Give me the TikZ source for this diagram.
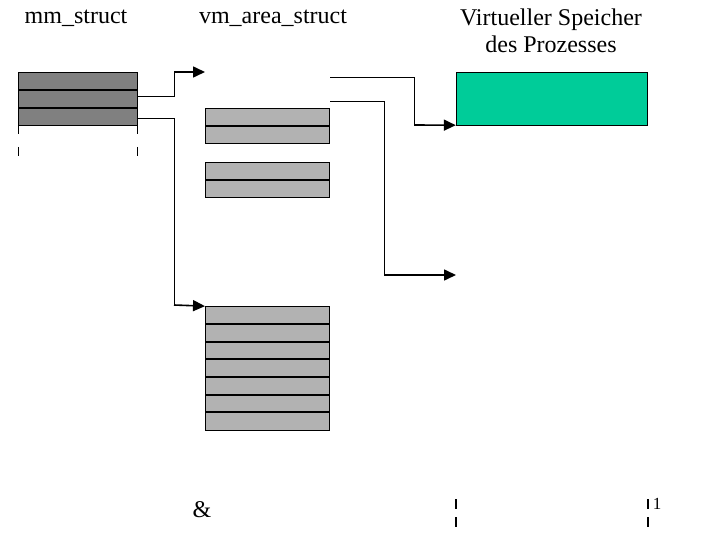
\documentclass[tikz,border=0pt]{standalone}
\usepackage{fontspec}
\setmainfont{Liberation Serif}
\usetikzlibrary{arrows.meta,positioning,calc}

\definecolor{mmgray}{RGB}{128,128,128}
\definecolor{vmgray}{RGB}{178,178,178}
\definecolor{memgreen}{RGB}{0,204,153}

\tikzset{
  head/.style={font=\fontsize{24}{27}\selectfont,align=center},
  mmrow/.style={draw,fill=mmgray,minimum width=119pt,minimum height=17.7pt,inner sep=0pt,outer sep=0pt},
  vmrow/.style={draw,fill=vmgray,minimum width=124pt,minimum height=17.7pt,inner sep=0pt,outer sep=0pt},
  link/.style={line width=1pt},
  linkarrow/.style={line width=1.6pt,-{Triangle[length=12pt,width=11pt]}},
  sep/.style={line width=2pt},
}

\begin{document}
\begin{tikzpicture}[x=1pt,y=-1pt]
\useasboundingbox (0,0) rectangle (720,540);

%% titles
\node[head] (tmm) at (76,18) {mm\_struct};
\node[head] (tvm) at (273,18) {vm\_area\_struct};
\node[head] (tmem) at (551,31) {Virtueller Speicher\\des Prozesses};

%% mm_struct
\node[mmrow] (mm1) at (77.5,81) {};
\node[mmrow,below=0pt of mm1] (mm2) {};
\node[mmrow,below=0pt of mm2] (mm3) {};
\draw[sep] (mm1.south west) -- (mm1.south east);
\draw[sep] (mm2.south west) -- (mm2.south east);
\foreach \x in {18,137}{
	\draw (\x,125) -- (\x,134);
	\draw (\x,147) -- (\x,156);
}

%% vm_area_struct blocks
\node[vmrow] (va1) at (267,117) {};
\node[vmrow,below=0pt of va1] (va2) {};
\draw[sep] (va1.south west) -- (va1.south east);
\node[vmrow] (vb1) at (267,171) {};
\node[vmrow,below=0pt of vb1] (vb2) {};
\draw[sep] (vb1.south west) -- (vb1.south east);

\node[vmrow] (big1) at (267,315) {};
\foreach \i [count=\j from 2] in {1,...,6}{
	\node[vmrow,below=0pt of big\i] (big\j) {};
	\draw[sep] (big\i.south west) -- (big\i.south east);
}

%% process memory
\node[draw,fill=memgreen,minimum width=191pt,minimum height=53pt,inner sep=0pt] (mem) at (551.5,98.5) {};

%% free ends
\coordinate (vmhead) at (205,72);
\coordinate (vmout1) at (330,78);
\coordinate (vmout2) at (330,102);
\coordinate (memlow) at (456,275);

%% connectors
\draw[link] (mm2.east) ++(0,-2.5) -- ++(37,0) |- (176,72);
\draw[linkarrow] (174,72) -- (vmhead);
\draw[link] (mm3.east) ++(0,2.5) -- ++(37,0) |- (176,305);
\draw[linkarrow] (174,305) -- (big1.north west);
\draw[link] (vmout1) -| (414,124);
\draw[linkarrow] (414,125) -- (mem.south west);
\draw[link] (vmout2) -| (384,274);
\draw[linkarrow] (384,275) -- (memlow);

%% footer
\node[head] (amp) at (202,510) {\&};
\foreach \x in {456,648}{
	\draw[line width=1.2pt] (\x,499) -- (\x,509);
	\draw[line width=1.2pt] (\x,517) -- (\x,527);
}
\node[font=\fontsize{17}{19}\selectfont,inner sep=0pt] (pg) at (657,504) {1};
\end{tikzpicture}
\end{document}
